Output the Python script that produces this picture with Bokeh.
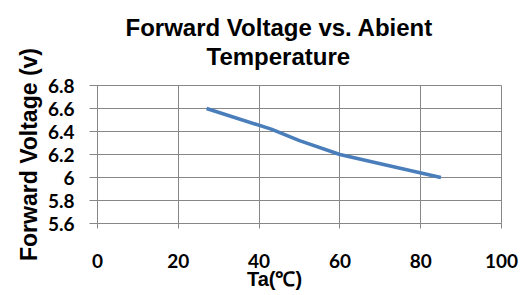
from bokeh.plotting import figure
from bokeh.models import Title, FixedTicker
from bokeh.embed import file_html
from bokeh.resources import INLINE

temps = [27, 43, 50, 60, 70, 85]
voltages = [6.6, 6.42, 6.32, 6.2, 6.12, 6.0]
x_ticks = [0, 20, 40, 60, 80, 100]
y_ticks = [5.6, 5.8, 6.0, 6.2, 6.4, 6.6, 6.8]
y_tick_labels = {5.6: "5.6", 5.8: "5.8", 6.0: "6", 6.2: "6.2", 6.4: "6.4", 6.6: "6.6", 6.8: "6.8"}
title_lines = ["Forward Voltage vs. Abient", "Temperature"]
x_label = "Ta(℃)"
y_label = "Forward Voltage (v)"

NB = "\u00a0"

p = figure(width=529, height=295, x_range=(0, 100), y_range=(5.6, 6.8),
           output_backend="svg", toolbar_location=None)
p.min_border_left = 97
p.min_border_right = 28
p.min_border_top = 85
p.min_border_bottom = 72
p.outline_line_color = "#878787"

grid_color = "#878787"
p.xgrid.ticker = FixedTicker(ticks=x_ticks)
p.ygrid.ticker = FixedTicker(ticks=y_ticks)
p.xgrid.grid_line_color = grid_color
p.ygrid.grid_line_color = grid_color
p.xgrid.grid_line_alpha = 1.0
p.ygrid.grid_line_alpha = 1.0
p.xgrid.grid_line_width = 1
p.ygrid.grid_line_width = 1

xa = p.xaxis[0]
xa.ticker = FixedTicker(ticks=x_ticks)
xa.axis_line_color = grid_color
xa.major_tick_line_color = grid_color
xa.major_tick_in = 0
xa.major_tick_out = 5
xa.minor_tick_line_color = None
xa.major_label_standoff = 25
xa.major_label_text_font = "Lato"
xa.major_label_text_font_style = "bold"
xa.major_label_text_font_size = "19px"
xa.major_label_text_color = "black"
xa.axis_label = x_label + NB * 9
xa.axis_label_text_font = "Liberation Sans"
xa.axis_label_text_font_style = "bold"
xa.axis_label_text_font_size = "20px"
xa.axis_label_text_color = "black"
xa.axis_label_standoff = -3

ya = p.yaxis[0]
ya.ticker = FixedTicker(ticks=y_ticks)
ya.major_label_overrides = y_tick_labels
ya.axis_line_color = grid_color
ya.major_tick_line_color = grid_color
ya.major_tick_in = 0
ya.major_tick_out = 8
ya.minor_tick_line_color = None
ya.major_label_standoff = 15
ya.major_label_text_font = "Lato"
ya.major_label_text_font_style = "bold"
ya.major_label_text_font_size = "19px"
ya.major_label_text_color = "black"
ya.axis_label = y_label
ya.axis_label_text_font = "Liberation Sans"
ya.axis_label_text_font_style = "bold"
ya.axis_label_text_font_size = "23px"
ya.axis_label_text_color = "black"
ya.axis_label_standoff = 3

p.line(temps, voltages, line_color="#4A7EBB", line_width=3.5)

# title lines: the one added first sits closest to the frame
p.add_layout(Title(text=title_lines[1], align="left", offset=109,
                   text_font="Liberation Sans", text_font_style="bold",
                   text_font_size="24px", text_color="black", standoff=32), "above")
p.add_layout(Title(text=title_lines[0], align="left", offset=28,
                   text_font="Liberation Sans", text_font_style="bold",
                   text_font_size="24px", text_color="black", standoff=-32), "above")

open("out.html", "w").write(file_html(p, INLINE))
